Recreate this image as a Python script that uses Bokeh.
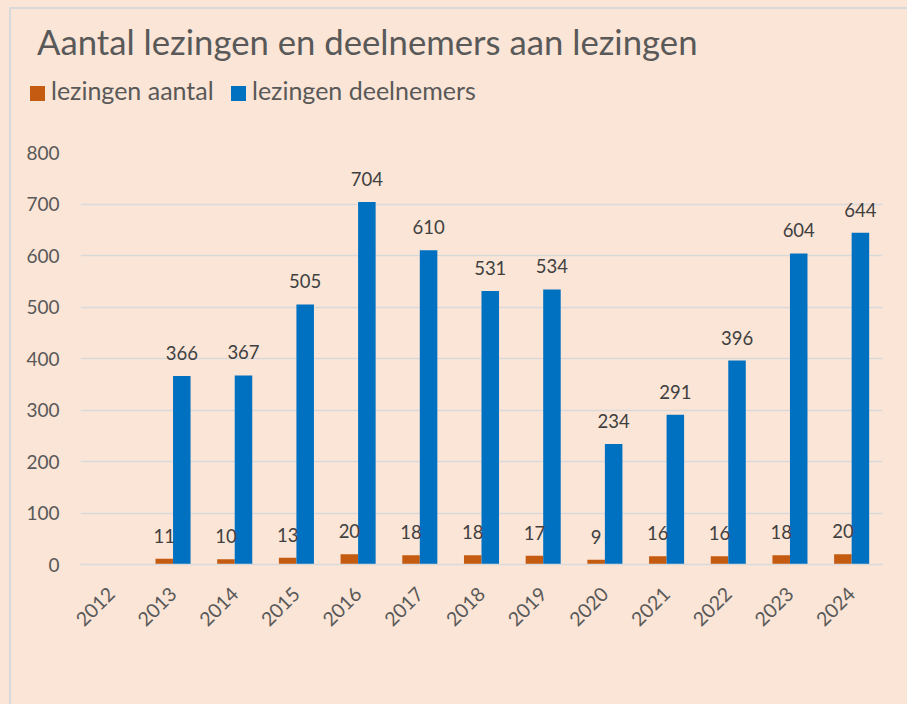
from bokeh.plotting import figure
from bokeh.layouts import column
from bokeh.models import (FactorRange, Range1d, ColumnDataSource, LabelSet,
                          FixedTicker, Div)
from bokeh.transform import dodge
from bokeh.core.properties import value
from bokeh.embed import file_html
from bokeh.resources import INLINE
from math import pi

# ---- data ----
years = ["2012", "2013", "2014", "2015", "2016", "2017", "2018",
         "2019", "2020", "2021", "2022", "2023", "2024"]
aantal = [None, 11, 10, 13, 20, 18, 18, 17, 9, 16, 16, 18, 20]
deelnemers = [None, 366, 367, 505, 704, 610, 531, 534, 234, 291, 396, 604, 644]
y_ticks = [0, 100, 200, 300, 400, 500, 600, 700, 800]
series_names = ["lezingen aantal", "lezingen deelnemers"]
title_text = "Aantal lezingen en deelnemers aan lezingen"

BG = "#FBE5D6"
ORANGE = "#C55A11"
BLUE = "#0070C0"
GRID = "#D9D9D9"
TXT = "#595959"
VAL = "#404040"
FONT = "Lato"
series_colors = [ORANGE, BLUE]

nan = float("nan")
src = ColumnDataSource(dict(
    year=years,
    aantal=[nan if v is None else v for v in aantal],
    deelnemers=[nan if v is None else v for v in deelnemers],
))
lab_a = ColumnDataSource(dict(
    year=[y for y, v in zip(years, aantal) if v is not None],
    v=[v for v in aantal if v is not None],
    t=[str(v) for v in aantal if v is not None],
))
lab_d = ColumnDataSource(dict(
    year=[y for y, v in zip(years, deelnemers) if v is not None],
    v=[v for v in deelnemers if v is not None],
    t=[str(v) for v in deelnemers if v is not None],
))

# ---------- header (title + legend) ----------
TOP_H = 142
legend_left = [30, 231]
items_html = ""
for name, col, lx in zip(series_names, series_colors, legend_left):
    items_html += (
        f'<div style="position:absolute;left:{lx}px;top:77.8px;display:flex;'
        f'align-items:center;height:25px;font-size:25px;line-height:25px;white-space:nowrap">'
        f'<span style="display:inline-block;width:15px;height:15px;background:{col};'
        f'position:relative;top:3.2px;margin-right:6px"></span>'
        f'<span>{name}</span></div>'
    )
header_html = (
    f'<div style="position:relative;width:907px;height:{TOP_H}px;font-family:{FONT};'
    f'color:{TXT}">'
    f'<div style="position:absolute;left:37px;top:24.7px;font-size:34.7px;'
    f'line-height:34.7px;white-space:nowrap">{title_text}</div>'
    f'{items_html}</div>'
)
head = Div(text=header_html, width=907, height=TOP_H, margin=0)

# ---------- main chart ----------
p = figure(width=907, height=704 - TOP_H, x_range=FactorRange(factors=years),
           y_range=Range1d(0, 800), output_backend="svg", toolbar_location=None,
           min_border_left=80, min_border_right=25, min_border_top=10,
           min_border_bottom=140)
p.title = None
p.background_fill_color = BG
p.border_fill_alpha = 0
p.outline_line_color = None

off = 0.142
bw = 0.284
p.vbar(x=dodge("year", -off, range=p.x_range), top="aantal", width=bw,
       source=src, fill_color=ORANGE, line_color=None)
p.vbar(x=dodge("year", off, range=p.x_range), top="deelnemers", width=bw,
       source=src, fill_color=BLUE, line_color=None)

for s, dx in ((lab_a, -off), (lab_d, off)):
    p.add_layout(LabelSet(x=dodge("year", dx, range=p.x_range), y="v", text="t",
                          source=s, y_offset=23, text_align="center",
                          text_baseline="middle", text_font=value(FONT),
                          text_font_size="18.5px", text_color=VAL))

p.yaxis.ticker = FixedTicker(ticks=y_ticks)
p.yaxis.axis_line_color = None
p.yaxis.major_tick_line_color = None
p.yaxis.minor_tick_line_color = None
p.yaxis.major_tick_out = 0
p.yaxis.major_label_standoff = 21
p.yaxis.major_label_text_font = FONT
p.yaxis.major_label_text_font_size = "19px"
p.yaxis.major_label_text_color = TXT

p.xaxis.axis_line_color = GRID
p.xaxis.axis_line_width = 1.5
p.xaxis.major_tick_line_color = None
p.xaxis.major_tick_out = 0
p.xaxis.major_label_orientation = pi / 4
p.xaxis.major_label_standoff = 26
p.xaxis.major_label_text_font = FONT
p.xaxis.major_label_text_font_size = "19.5px"
p.xaxis.major_label_text_color = TXT

p.xgrid.grid_line_color = None
p.ygrid.ticker = FixedTicker(ticks=y_ticks)
p.ygrid.grid_line_color = GRID
p.ygrid.grid_line_width = 1.5

page = column(head, p, spacing=0, styles={
    "background": (f"linear-gradient({GRID},{GRID}) 9px 7px / 2px 100% no-repeat, "
                   f"linear-gradient({GRID},{GRID}) 9px 7px / 100% 2px no-repeat, {BG}")
})

open("out.html", "w").write(file_html(page, INLINE))
